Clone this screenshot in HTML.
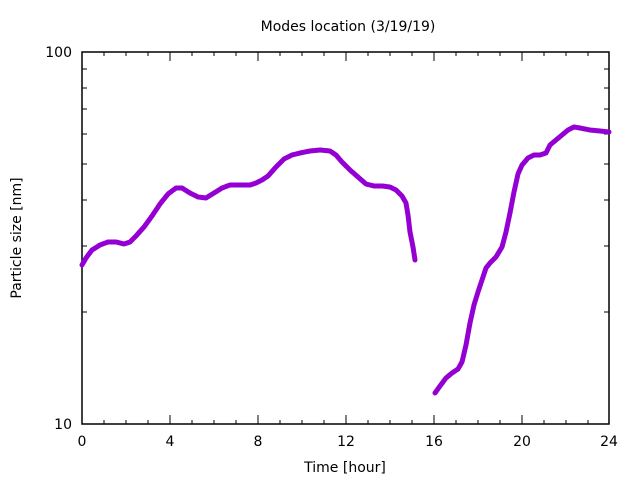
<!DOCTYPE html>
<html><head><style>body{margin:0;background:#fff}svg{display:block}text{font-family:"DejaVu Sans",sans-serif;font-size:14px;fill:#000}</style></head>
<body>
<svg width="640" height="480" viewBox="0 0 640 480">
<rect x="82" y="52" width="527" height="372" fill="none" stroke="#000" stroke-width="1.5"/>
<g stroke="#000" stroke-width="1">
<path d="M104,424v-4M126,424v-4M148,424v-4M170,424v-9M192,424v-4M214,424v-4M236,424v-4M258,424v-9M280,424v-4M302,424v-4M324,424v-4M346,424v-9M368,424v-4M390,424v-4M412,424v-4M434,424v-9M456,424v-4M478,424v-4M500,424v-4M522,424v-9M544,424v-4M566,424v-4M588,424v-4"/>
<path d="M104,52v4M126,52v4M148,52v4M170,52v9M192,52v4M214,52v4M236,52v4M258,52v9M280,52v4M302,52v4M324,52v4M346,52v9M368,52v4M390,52v4M412,52v4M434,52v9M456,52v4M478,52v4M500,52v4M522,52v9M544,52v4M566,52v4M588,52v4"/>
<path d="M82,312h5M82,246h5M82,200h5M82,164h5M82,134h5M82,109h5M82,88h5M82,69h5M609,312h-5M609,246h-5M609,200h-5M609,164h-5M609,134h-5M609,109h-5M609,88h-5M609,69h-5"/>
</g>
<g stroke="#9400d3" stroke-width="5" fill="none" stroke-linejoin="round" stroke-linecap="round" stroke-dasharray="3 0.5">
<polyline points="82,265 86,258 92,250 100,245 108,242 116,242 124,244 130,242 136,236 144,227 152,216 160,204 168,194 176,188 182,188 190,193 198,197 206,198 214,193 222,188 230,185 240,185 250,185 256,183 262,180 268,176 276,167 284,159 292,155 300,153 310,151 320,150 330,151 336,155 342,162 350,170 358,177 366,184 374,186 382,186 390,187 396,190 402,196 406,203 408,215 410,232 413,247 415,260"/>
<polyline points="435,393 440,386 446,378 452,373 458,369 462,362 466,345 470,323 474,305 478,292 482,280 486,268 490,263 496,257 502,247 506,232 510,213 514,192 518,174 522,165 528,158 534,155 540,155 546,153 550,145 556,140 562,135 568,130 574,127 580,128 590,130 600,131 609,132"/>
</g>
<text x="348" y="31" text-anchor="middle">Modes location (3/19/19)</text>
<text x="72" y="57" text-anchor="end">100</text>
<text x="72" y="429" text-anchor="end">10</text>
<g text-anchor="middle">
<text x="82" y="446">0</text><text x="170" y="446">4</text><text x="258" y="446">8</text><text x="346" y="446">12</text><text x="434" y="446">16</text><text x="522" y="446">20</text><text x="609" y="446">24</text>
<text x="345" y="472">Time [hour]</text>
<text transform="translate(21,238) rotate(-90)">Particle size [nm]</text>
</g>
</svg>
</body></html>
